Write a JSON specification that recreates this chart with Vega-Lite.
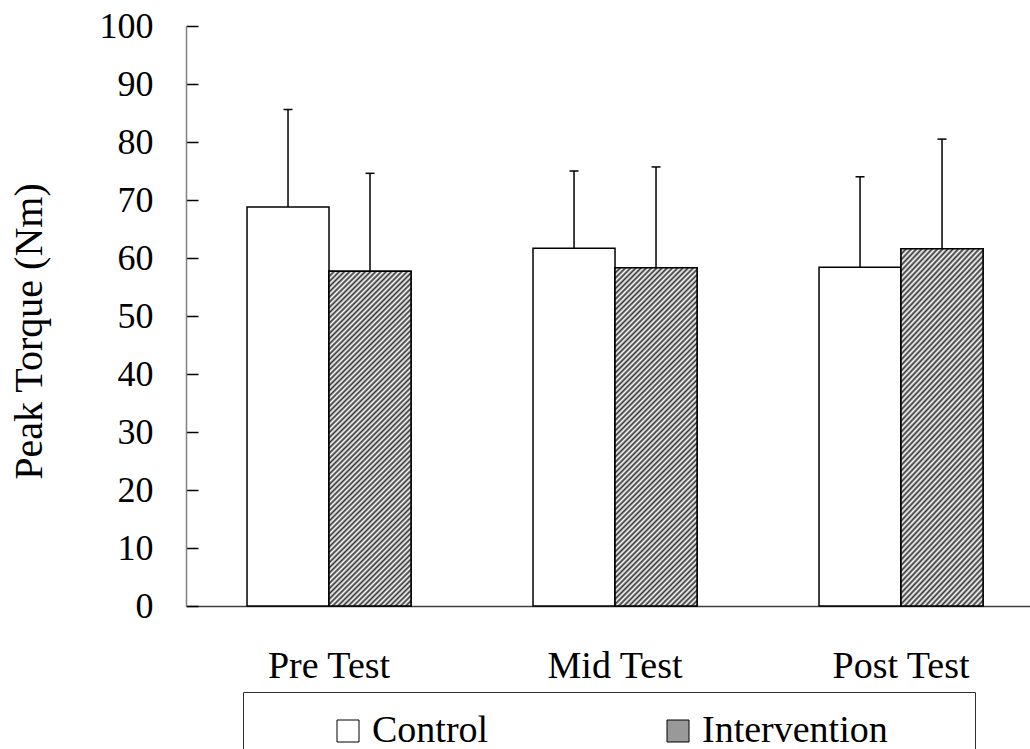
{
  "$schema": "https://vega.github.io/schema/vega-lite/v6.json",
  "width": 844,
  "height": 580,
  "autosize": {"type": "none"},
  "padding": {"left": 186, "top": 26, "right": 0, "bottom": 143},
  "background": "white",
  "config": {
    "view": {"stroke": null},
    "font": "Liberation Serif"
  },
  "data": {
    "values": [
      {"test": "Pre Test", "group": "Control", "mean": 68.8, "upper": 85.6},
      {"test": "Pre Test", "group": "Intervention", "mean": 57.7, "upper": 74.6},
      {"test": "Mid Test", "group": "Control", "mean": 61.7, "upper": 75.0},
      {"test": "Mid Test", "group": "Intervention", "mean": 58.3, "upper": 75.7},
      {"test": "Post Test", "group": "Control", "mean": 58.4, "upper": 74.0},
      {"test": "Post Test", "group": "Intervention", "mean": 61.6, "upper": 80.5}
    ]
  },
  "encoding": {
    "x": {
      "field": "test",
      "type": "nominal",
      "sort": ["Pre Test", "Mid Test", "Post Test"],
      "scale": {"paddingInner": 0.4266, "paddingOuter": 0.1888, "align": 0.565},
      "axis": {
        "title": null,
        "labelAngle": 0,
        "ticks": false,
        "tickSize": 0,
        "labelPadding": 41,
        "labelFont": "Liberation Serif",
        "labelFontSize": 38,
        "labelColor": "black",
        "domainColor": "#404040",
        "domainWidth": 1.5
      }
    },
    "xOffset": {
      "field": "group",
      "type": "nominal",
      "sort": ["Control", "Intervention"],
      "scale": {"paddingInner": 0, "paddingOuter": 0}
    }
  },
  "layer": [
    {
      "mark": {"type": "bar", "stroke": "black", "strokeWidth": 1.5, "opacity": 1},
      "encoding": {
        "y": {
          "field": "mean",
          "type": "quantitative",
          "scale": {"domain": [0, 100], "nice": false},
          "axis": {
            "title": "Peak Torque (Nm)",
            "titleFont": "Liberation Serif",
            "titleFontSize": 40,
            "titleFontWeight": "normal",
            "titleColor": "black",
            "titleX": -145,
            "titleY": 305,
            "titleAngle": -90,
            "titleAlign": "center",
            "titleBaseline": "alphabetic",
            "values": [0, 10, 20, 30, 40, 50, 60, 70, 80, 90, 100],
            "grid": false,
            "ticks": true,
            "tickSize": -12,
            "tickColor": "black",
            "tickWidth": 1.5,
            "labelPadding": 45,
            "labelFont": "Liberation Serif",
            "labelFontSize": 36,
            "labelColor": "black",
            "domainColor": "#808080",
            "domainWidth": 1.5
          }
        },
        "fill": {
          "field": "group",
          "type": "nominal",
          "scale": {"domain": ["Control", "Intervention"], "range": ["white", "#999999"]},
          "legend": {
            "orient": "none",
            "legendX": 57,
            "legendY": 666,
            "direction": "horizontal",
            "columns": 2,
            "title": " ",
            "titleOrient": "left",
            "titleFontSize": 1,
            "titlePadding": 66,
            "symbolType": "square",
            "symbolSize": 484,
            "symbolStrokeColor": "black",
            "symbolStrokeWidth": 1,
            "symbolOpacity": 1,
            "labelFont": "Liberation Serif",
            "labelFontSize": 38,
            "labelColor": "black",
            "labelOffset": 5,
            "labelLimit": 400,
            "labelExpr": "datum.value === 'Intervention' ? datum.label + '\u00a0\u00a0\u00a0\u00a0\u00a0\u00a0\u00a0\u200b' : datum.label",
            "columnPadding": 170,
            "padding": 20,
            "strokeColor": "#333333",
            "fillColor": "white",
            "cornerRadius": 0,
            "encode": {
              "symbols": {
                "update": {
                  "stroke": {"value": "black"},
                  "strokeWidth": {"value": 1}
                }
              }
            }
          }
        }
      }
    },
    {
      "mark": {"type": "bar", "stroke": "black", "strokeWidth": 1.5, "opacity": 1},
      "transform": [{"filter": "datum.group === 'Intervention'"}],
      "encoding": {
        "y": {"field": "mean", "type": "quantitative"},
        "fill": {
          "value": {
            "gradient": "linear",
            "x1": 0, "y1": 0, "x2": 0.2864, "y2": 1.174,
            "stops": [
              {"offset": 0, "color": "#333"}, {"offset": 0.00625, "color": "#fff"}, {"offset": 0.0125, "color": "#333"}, {"offset": 0.01875, "color": "#fff"}, {"offset": 0.025, "color": "#333"}, {"offset": 0.03125, "color": "#fff"}, {"offset": 0.0375, "color": "#333"}, {"offset": 0.04375, "color": "#fff"}, {"offset": 0.05, "color": "#333"}, {"offset": 0.05625, "color": "#fff"}, {"offset": 0.0625, "color": "#333"}, {"offset": 0.06875, "color": "#fff"}, {"offset": 0.075, "color": "#333"}, {"offset": 0.08125, "color": "#fff"}, {"offset": 0.0875, "color": "#333"}, {"offset": 0.09375, "color": "#fff"},
              {"offset": 0.1, "color": "#333"}, {"offset": 0.10625, "color": "#fff"}, {"offset": 0.1125, "color": "#333"}, {"offset": 0.11875, "color": "#fff"}, {"offset": 0.125, "color": "#333"}, {"offset": 0.13125, "color": "#fff"}, {"offset": 0.1375, "color": "#333"}, {"offset": 0.14375, "color": "#fff"}, {"offset": 0.15, "color": "#333"}, {"offset": 0.15625, "color": "#fff"}, {"offset": 0.1625, "color": "#333"}, {"offset": 0.16875, "color": "#fff"}, {"offset": 0.175, "color": "#333"}, {"offset": 0.18125, "color": "#fff"}, {"offset": 0.1875, "color": "#333"}, {"offset": 0.19375, "color": "#fff"},
              {"offset": 0.2, "color": "#333"}, {"offset": 0.20625, "color": "#fff"}, {"offset": 0.2125, "color": "#333"}, {"offset": 0.21875, "color": "#fff"}, {"offset": 0.225, "color": "#333"}, {"offset": 0.23125, "color": "#fff"}, {"offset": 0.2375, "color": "#333"}, {"offset": 0.24375, "color": "#fff"}, {"offset": 0.25, "color": "#333"}, {"offset": 0.25625, "color": "#fff"}, {"offset": 0.2625, "color": "#333"}, {"offset": 0.26875, "color": "#fff"}, {"offset": 0.275, "color": "#333"}, {"offset": 0.28125, "color": "#fff"}, {"offset": 0.2875, "color": "#333"}, {"offset": 0.29375, "color": "#fff"},
              {"offset": 0.3, "color": "#333"}, {"offset": 0.30625, "color": "#fff"}, {"offset": 0.3125, "color": "#333"}, {"offset": 0.31875, "color": "#fff"}, {"offset": 0.325, "color": "#333"}, {"offset": 0.33125, "color": "#fff"}, {"offset": 0.3375, "color": "#333"}, {"offset": 0.34375, "color": "#fff"}, {"offset": 0.35, "color": "#333"}, {"offset": 0.35625, "color": "#fff"}, {"offset": 0.3625, "color": "#333"}, {"offset": 0.36875, "color": "#fff"}, {"offset": 0.375, "color": "#333"}, {"offset": 0.38125, "color": "#fff"}, {"offset": 0.3875, "color": "#333"}, {"offset": 0.39375, "color": "#fff"},
              {"offset": 0.4, "color": "#333"}, {"offset": 0.40625, "color": "#fff"}, {"offset": 0.4125, "color": "#333"}, {"offset": 0.41875, "color": "#fff"}, {"offset": 0.425, "color": "#333"}, {"offset": 0.43125, "color": "#fff"}, {"offset": 0.4375, "color": "#333"}, {"offset": 0.44375, "color": "#fff"}, {"offset": 0.45, "color": "#333"}, {"offset": 0.45625, "color": "#fff"}, {"offset": 0.4625, "color": "#333"}, {"offset": 0.46875, "color": "#fff"}, {"offset": 0.475, "color": "#333"}, {"offset": 0.48125, "color": "#fff"}, {"offset": 0.4875, "color": "#333"}, {"offset": 0.49375, "color": "#fff"},
              {"offset": 0.5, "color": "#333"}, {"offset": 0.50625, "color": "#fff"}, {"offset": 0.5125, "color": "#333"}, {"offset": 0.51875, "color": "#fff"}, {"offset": 0.525, "color": "#333"}, {"offset": 0.53125, "color": "#fff"}, {"offset": 0.5375, "color": "#333"}, {"offset": 0.54375, "color": "#fff"}, {"offset": 0.55, "color": "#333"}, {"offset": 0.55625, "color": "#fff"}, {"offset": 0.5625, "color": "#333"}, {"offset": 0.56875, "color": "#fff"}, {"offset": 0.575, "color": "#333"}, {"offset": 0.58125, "color": "#fff"}, {"offset": 0.5875, "color": "#333"}, {"offset": 0.59375, "color": "#fff"},
              {"offset": 0.6, "color": "#333"}, {"offset": 0.60625, "color": "#fff"}, {"offset": 0.6125, "color": "#333"}, {"offset": 0.61875, "color": "#fff"}, {"offset": 0.625, "color": "#333"}, {"offset": 0.63125, "color": "#fff"}, {"offset": 0.6375, "color": "#333"}, {"offset": 0.64375, "color": "#fff"}, {"offset": 0.65, "color": "#333"}, {"offset": 0.65625, "color": "#fff"}, {"offset": 0.6625, "color": "#333"}, {"offset": 0.66875, "color": "#fff"}, {"offset": 0.675, "color": "#333"}, {"offset": 0.68125, "color": "#fff"}, {"offset": 0.6875, "color": "#333"}, {"offset": 0.69375, "color": "#fff"},
              {"offset": 0.7, "color": "#333"}, {"offset": 0.70625, "color": "#fff"}, {"offset": 0.7125, "color": "#333"}, {"offset": 0.71875, "color": "#fff"}, {"offset": 0.725, "color": "#333"}, {"offset": 0.73125, "color": "#fff"}, {"offset": 0.7375, "color": "#333"}, {"offset": 0.74375, "color": "#fff"}, {"offset": 0.75, "color": "#333"}, {"offset": 0.75625, "color": "#fff"}, {"offset": 0.7625, "color": "#333"}, {"offset": 0.76875, "color": "#fff"}, {"offset": 0.775, "color": "#333"}, {"offset": 0.78125, "color": "#fff"}, {"offset": 0.7875, "color": "#333"}, {"offset": 0.79375, "color": "#fff"},
              {"offset": 0.8, "color": "#333"}, {"offset": 0.80625, "color": "#fff"}, {"offset": 0.8125, "color": "#333"}, {"offset": 0.81875, "color": "#fff"}, {"offset": 0.825, "color": "#333"}, {"offset": 0.83125, "color": "#fff"}, {"offset": 0.8375, "color": "#333"}, {"offset": 0.84375, "color": "#fff"}, {"offset": 0.85, "color": "#333"}, {"offset": 0.85625, "color": "#fff"}, {"offset": 0.8625, "color": "#333"}, {"offset": 0.86875, "color": "#fff"}, {"offset": 0.875, "color": "#333"}, {"offset": 0.88125, "color": "#fff"}, {"offset": 0.8875, "color": "#333"}, {"offset": 0.89375, "color": "#fff"},
              {"offset": 0.9, "color": "#333"}, {"offset": 0.90625, "color": "#fff"}, {"offset": 0.9125, "color": "#333"}, {"offset": 0.91875, "color": "#fff"}, {"offset": 0.925, "color": "#333"}, {"offset": 0.93125, "color": "#fff"}, {"offset": 0.9375, "color": "#333"}, {"offset": 0.94375, "color": "#fff"}, {"offset": 0.95, "color": "#333"}, {"offset": 0.95625, "color": "#fff"}, {"offset": 0.9625, "color": "#333"}, {"offset": 0.96875, "color": "#fff"}, {"offset": 0.975, "color": "#333"}, {"offset": 0.98125, "color": "#fff"}, {"offset": 0.9875, "color": "#333"}, {"offset": 0.99375, "color": "#fff"},
              {"offset": 1, "color": "#333"}
            ]
          }
        }
      }
    },
    {
      "mark": {"type": "rule", "color": "black", "strokeWidth": 1.5},
      "encoding": {
        "y": {"field": "mean", "type": "quantitative"},
        "y2": {"field": "upper"}
      }
    },
    {
      "mark": {"type": "tick", "orient": "horizontal", "size": 9, "thickness": 1.5, "color": "black", "opacity": 1},
      "encoding": {
        "y": {"field": "upper", "type": "quantitative"}
      }
    }
  ]
}
